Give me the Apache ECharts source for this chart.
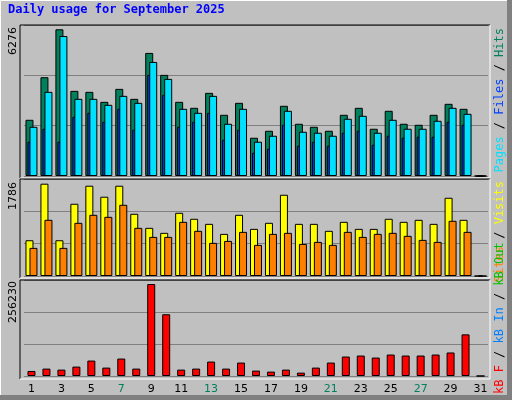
<!DOCTYPE html>
<html>
<head>
<meta charset="UTF-8" />
<script src="https://cdn.jsdelivr.net/npm/echarts@6/dist/echarts.min.js"></script>
<style>
  html, body { margin: 0; padding: 0; background: #c0c0c0; }
  #chart { width: 512px; height: 400px; }
</style>
</head>
<body>
<div id="chart"></div>
<script>
var days = ["1","2","3","4","5","6","7","8","9","10","11","12","13","14","15","16","17","18","19","20","21","22","23","24","25","26","27","28","29","30","31"];
var weekend = ["6","7","13","14","20","21","27","28"];

var hits  = [2405,4226,6276,3643,3600,3173,3728,3301,5265,4326,3173,2917,3557,2618,3130,1636,1935,3003,2234,2106,1935,2618,2917,2021,2789,2234,2191,2618,3088,2874,0];
var files = [1466,2021,1466,2533,2703,2320,2874,1978,4326,3472,2106,2320,2703,1551,1978,996,1167,2191,1295,1466,1295,1850,1935,1338,1722,1636,1679,1679,2320,2191,0];
var pages = [2106,3600,5990,3301,3301,3045,3429,3130,4880,4155,2874,2703,3429,2234,2874,1466,1722,2789,1893,1850,1722,2448,2576,1850,2405,2021,2021,2362,2917,2661,0];

var visits = [692,1786,692,1398,1747,1534,1747,1204,932,835,1223,1107,1009,815,1184,912,1029,1572,1009,1009,874,1048,912,912,1107,1048,1087,1009,1514,1087,0];
var sites  = [544,1087,544,1029,1184,1145,1378,932,757,757,1048,874,641,679,854,602,815,835,621,660,602,854,757,815,835,777,699,660,1068,854,0];

var kbytes = [14000,20600,17800,26200,43000,23400,48600,20600,256230,172000,17800,20600,40200,20600,37400,15000,12200,17800,9350,23400,37400,54200,57000,51400,59800,57000,57000,59800,65500,116000,0];

var maxLabels = ["6276", "1786", "256230"];
var axisMax = [6460, 1877, 267450];

var chart = echarts.init(document.getElementById("chart"));

var panels = [[25, 178], [179, 278], [280, 379]];
var gridTops = [[25, 151], [179, 97], [280, 96]];

function xAxis(i) {
  return {
    type: "category", gridIndex: i, data: days,
    axisLine: { show: false }, axisTick: { show: false },
    axisLabel: {
      show: i === 2, margin: 8, fontSize: 11, fontFamily: "DejaVu Sans",
      color: function (v) { return weekend.indexOf(v) >= 0 ? "#00805c" : "#000"; }
    }
  };
}
function yAxis(i) {
  return {
    type: "value", gridIndex: i, min: 0, max: axisMax[i], interval: axisMax[i] / 3,
    axisLine: { show: false }, axisTick: { show: false }, axisLabel: { show: false },
    splitLine: { lineStyle: { color: "#808080", width: 1 } }
  };
}
function bar(name, data, color, i, gap) {
  return {
    name: name, type: "bar", xAxisIndex: i, yAxisIndex: i, data: data,
    barWidth: 8, barGap: gap, animation: false,
    itemStyle: { color: color, borderColor: "#000", borderWidth: 1 }
  };
}

var graphics = [];
panels.forEach(function (p) {
  graphics.push({ type: "line", z: 100, shape: { x1: 20, y1: p[0], x2: 490, y2: p[0] }, style: { stroke: "#000", lineWidth: 1 } });
  graphics.push({ type: "line", z: 100, shape: { x1: 20, y1: p[0], x2: 20, y2: p[1] }, style: { stroke: "#000", lineWidth: 1 } });
  graphics.push({ type: "line", z: 100, shape: { x1: 20, y1: p[1], x2: 490, y2: p[1] }, style: { stroke: "#fff", lineWidth: 1 } });
  graphics.push({ type: "line", z: 100, shape: { x1: 490, y1: p[0], x2: 490, y2: p[1] }, style: { stroke: "#fff", lineWidth: 1 } });
});
// outer frame
graphics.push({ type: "line", z: 100, shape: { x1: 0.5, y1: 0.5, x2: 507, y2: 0.5 }, style: { stroke: "#fff" } });
graphics.push({ type: "line", z: 100, shape: { x1: 0.5, y1: 0.5, x2: 0.5, y2: 395 }, style: { stroke: "#fff" } });
graphics.push({ type: "rect", z: 99, shape: { x: 0, y: 395, width: 512, height: 5 }, style: { fill: "#808080" } });
graphics.push({ type: "rect", z: 99, shape: { x: 507, y: 0, width: 5, height: 400 }, style: { fill: "#808080" } });

[[27, 0], [182, 1], [281, 2]].forEach(function (m) {
  graphics.push({ type: "text", z: 100, x: 19, y: m[0], rotation: Math.PI / 2,
    style: { text: maxLabels[m[1]], align: "right", verticalAlign: "bottom", fill: "#000", fontSize: 11, fontFamily: "DejaVu Sans" } });
});

graphics.push({ type: "text", z: 100, x: 8, y: 10, style: { text: "Daily usage for September 2025", fill: "#0000ff",
  fontSize: 12, fontWeight: "bold", fontFamily: "DejaVu Sans Mono", verticalAlign: "middle" } });

var mono = { fontSize: 12, fontFamily: "DejaVu Sans Mono" };
function rich(c) { return Object.assign({ fill: c, color: c }, mono); }
graphics.push({ type: "text", z: 100, x: 494, y: 28, rotation: Math.PI / 2,
  style: Object.assign({ text: "{p|Pages}{s| / }{f|Files}{s| / }{h|Hits}", align: "right", verticalAlign: "top",
    rich: { p: rich("#00e0ff"), s: rich("#000"), f: rich("#0040ff"), h: rich("#00805c") } }, mono) });
graphics.push({ type: "text", z: 100, x: 494, y: 181, rotation: Math.PI / 2,
  style: Object.assign({ text: "{o|Sites}{s| / }{v|Visits}", align: "right", verticalAlign: "top",
    rich: { o: rich("#ff8000"), s: rich("#000"), v: rich("#ffff00") } }, mono) });
graphics.push({ type: "text", z: 100, x: 494, y: 394, rotation: Math.PI / 2,
  style: Object.assign({ text: "{r|kB F}{s| / }{b|kB In}{s| / }{g|kB Out}", align: "left", verticalAlign: "top",
    rich: { r: rich("#ff0000"), s: rich("#000"), b: rich("#0080ff"), g: rich("#00c000") } }, mono) });

chart.setOption({
  backgroundColor: "#c0c0c0",
  animation: false,
  grid: gridTops.map(function (g) { return { left: 24, right: 24, top: g[0], height: g[1] }; }),
  xAxis: [xAxis(0), xAxis(1), xAxis(2)],
  yAxis: [yAxis(0), yAxis(1), yAxis(2)],
  series: [
    bar("Hits", hits, "#00805c", 0, "-75%"),
    bar("Files", files, "#0040ff", 0, "-75%"),
    bar("Pages", pages, "#00e0ff", 0, "-75%"),
    bar("Visits", visits, "#ffff00", 1, "-50%"),
    bar("Sites", sites, "#ff8000", 1, "-50%"),
    bar("KBytes", kbytes, "#ff0000", 2, "0%")
  ],
  graphic: graphics
});
</script>
</body>
</html>
